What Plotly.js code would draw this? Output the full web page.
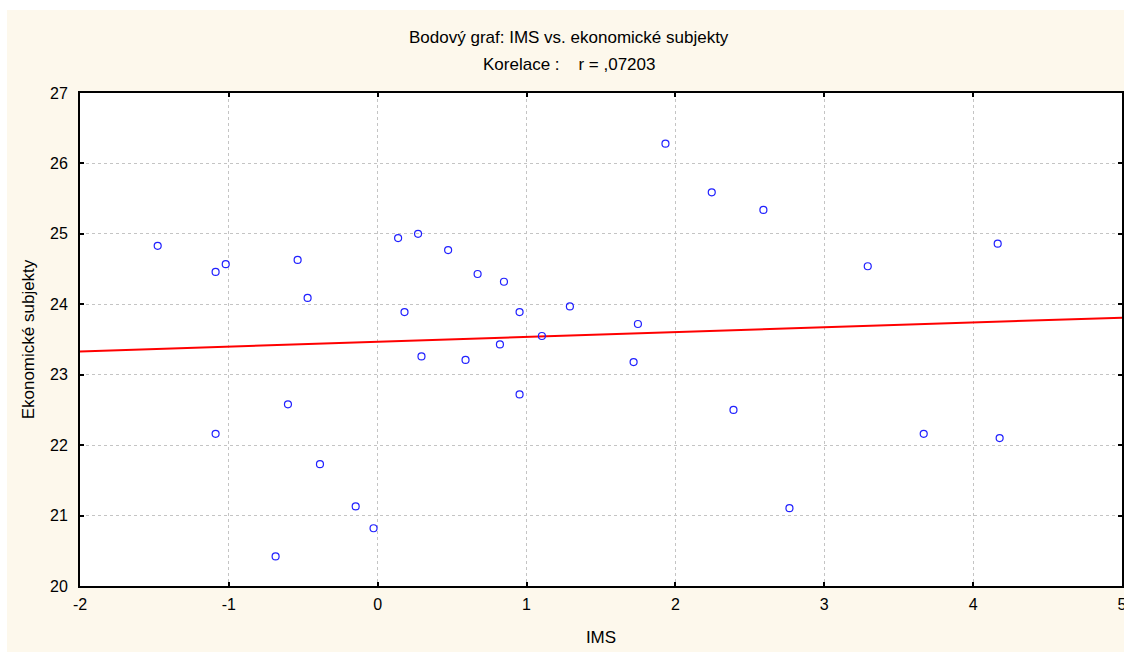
<!DOCTYPE html>
<html>
<head>
<meta charset="utf-8">
<script src="https://cdn.plot.ly/plotly-3.0.1.min.js"></script>
<style>
  html, body { margin: 0; padding: 0; background: #ffffff; overflow: hidden; }
  #chart { position: absolute; left: 7px; top: 10px; width: 1117px; height: 642px; }
</style>
</head>
<body>
<div id="chart"></div>
<script>
const imsValues = [-1.478, -1.089, -1.021, -0.538, -0.471, 0.137, 0.271, 0.473, 0.180,
  -1.089, -0.603, -0.388, -0.148, -0.028, -0.686, 0.294,
  1.933, 2.244, 2.591, 0.671, 0.848, 0.953, 1.291, 1.748, 1.103,
  0.590, 0.821, 0.953, 1.719, 2.390, 2.766,
  3.292, 4.165, 3.668, 4.178];
const subjektyValues = [24.83, 24.46, 24.57, 24.63, 24.09, 24.94, 25.00, 24.77, 23.89,
  22.16, 22.58, 21.73, 21.13, 20.82, 20.42, 23.26,
  26.28, 25.59, 25.34, 24.43, 24.32, 23.89, 23.97, 23.72, 23.55,
  23.21, 23.43, 22.72, 23.18, 22.50, 21.105,
  24.54, 24.86, 22.16, 22.10];
const fitLineX = [-2, 5];
const fitLineY = [23.33, 23.81];
const xTicks = [-2, -1, 0, 1, 2, 3, 4, 5];
const yTicks = [20, 21, 22, 23, 24, 25, 26, 27];
const titleLine1 = "Bodový graf: IMS vs. ekonomické subjekty";
const titleLine2 = "Korelace :\u00a0\u00a0\u00a0\u00a0r = ,07203";
const xLabel = "IMS";
const yLabel = "Ekonomické subjekty";

const fontFam = "Arial, 'Liberation Sans', sans-serif";

const traces = [
  {
    x: fitLineX, y: fitLineY, type: 'scatter', mode: 'lines',
    line: { color: '#ff0000', width: 2 }, hoverinfo: 'skip', showlegend: false
  },
  {
    x: imsValues, y: subjektyValues, type: 'scatter', mode: 'markers',
    marker: { symbol: 'circle-open', size: 7, color: '#2020ff', line: { width: 1.2, color: '#2020ff' } },
    showlegend: false
  }
];

const axisCommon = {
  showline: true, linecolor: '#000000', linewidth: 2, mirror: 'ticks',
  ticks: 'inside', ticklen: 4, tickwidth: 2, tickcolor: '#000000',
  showgrid: true, gridcolor: '#c4c4c4', griddash: 'dot', gridwidth: 1,
  zeroline: false, tickfont: { family: fontFam, size: 16, color: '#000000' }
};

const layout = {
  width: 1117, height: 642,
  margin: { l: 73, r: 2, t: 83, b: 66 },
  paper_bgcolor: '#fdf8ec',
  plot_bgcolor: '#ffffff',
  showlegend: false,
  font: { family: fontFam, color: '#000000', size: 16 },
  xaxis: Object.assign({}, axisCommon, {
    range: [-2, 5], tickvals: xTicks, ticktext: xTicks.map(String),
    ticklabeloverflow: 'allow', ticklabelstandoff: 3,
    title: { text: xLabel, font: { family: fontFam, size: 17, color: '#000' }, standoff: 19 }
  }),
  yaxis: Object.assign({}, axisCommon, {
    range: [20, 27], tickvals: yTicks, ticktext: yTicks.map(String),
    ticklabelstandoff: 7,
    title: { text: yLabel, font: { family: fontFam, size: 17, color: '#000' }, standoff: 11 }
  }),
  annotations: [
    { text: titleLine1, xref: 'paper', yref: 'paper', x: 0.469, y: 1.112, xanchor: 'center', yanchor: 'middle',
      showarrow: false, font: { family: fontFam, size: 17, color: '#000' } },
    { text: titleLine2, xref: 'paper', yref: 'paper', x: 0.469, y: 1.057, xanchor: 'center', yanchor: 'middle',
      showarrow: false, font: { family: fontFam, size: 17, color: '#000' } }
  ]
};

Plotly.newPlot('chart', traces, layout, { displayModeBar: false, staticPlot: true });
</script>
</body>
</html>
